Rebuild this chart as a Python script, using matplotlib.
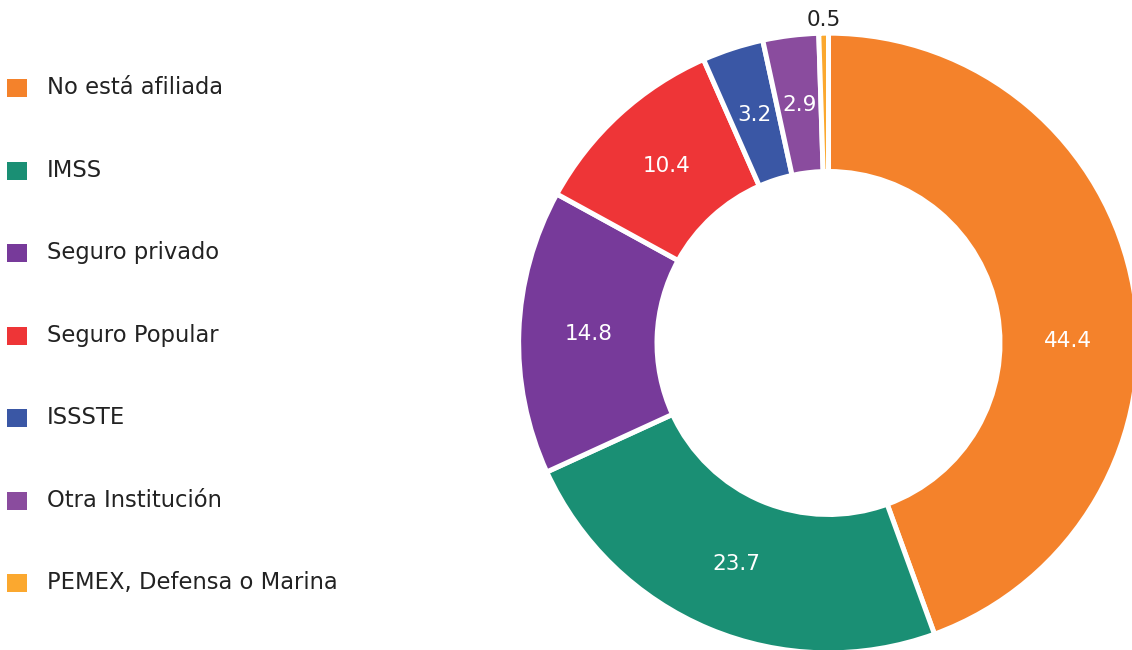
import numpy as np
import matplotlib
matplotlib.use("Agg")
import matplotlib.pyplot as plt
from matplotlib.patches import Rectangle

categories = [
    "No está afiliada",
    "IMSS",
    "Seguro privado",
    "Seguro Popular",
    "ISSSTE",
    "Otra Institución",
    "PEMEX, Defensa o Marina",
]
values = [44.4, 23.7, 14.8, 10.4, 3.2, 2.9, 0.5]
colors = ["#F4822B", "#1A8F74", "#773A9A", "#EE3537", "#3A57A5", "#8A4C9E", "#FBA82F"]

W, H = 1132, 650
plt.rcParams["font.family"] = ["DejaVu Sans"]

fig = plt.figure(figsize=(W / 100, H / 100), dpi=100)

# donut axes, placed in pixel terms
cx, cy, r_out = 828.5, 343, 308
ax = fig.add_axes([(cx - r_out) / W, (H - cy - r_out) / H, 2 * r_out / W, 2 * r_out / H])

lw = 3.6
r_in = 171.5 / r_out
wedges, _ = ax.pie(
    values, colors=colors, startangle=90, counterclock=False,
    radius=1.0 + 0.006, normalize=True,
    wedgeprops=dict(width=1.006 - r_in, edgecolor="white", linewidth=lw),
)
for w in wedges:
    w.set_clip_on(False)
ax.set_xlim(-1, 1)
ax.set_ylim(-1, 1)
ax.set_aspect("equal")
ax.axis("off")

total = sum(values)
r_lab = (1 + r_in) / 2
start = 90.0
for i, v in enumerate(values):
    span = v / total * 360
    mid = start - span / 2
    start -= span
    if i == 0:
        mid = 0.5  # label shown in the visible part of the big wedge
    th = np.deg2rad(mid)
    if v < 1:
        x, y = 1.05 * np.cos(th), 1.05 * np.sin(th)
        ax.text(x, y, f"{v}", ha="center", va="center", fontsize=15.5,
                color="#222222", clip_on=False)
    else:
        x, y = r_lab * np.cos(th), r_lab * np.sin(th)
        ax.text(x, y, f"{v}", ha="center", va="center", fontsize=15.5, color="white")

# legend on the left
y0, dy = 88, 82.5
for i, (lab, c) in enumerate(zip(categories, colors)):
    yc = y0 + i * dy
    fig.patches.append(Rectangle((7 / W, (H - yc - 9) / H), 20 / W, 18 / H,
                                 transform=fig.transFigure, facecolor=c, edgecolor="none"))
    fig.text(47 / W, (H - yc) / H, lab, ha="left", va="center", fontsize=16.3, color="#222222")

fig.savefig("out.png", dpi=100)
